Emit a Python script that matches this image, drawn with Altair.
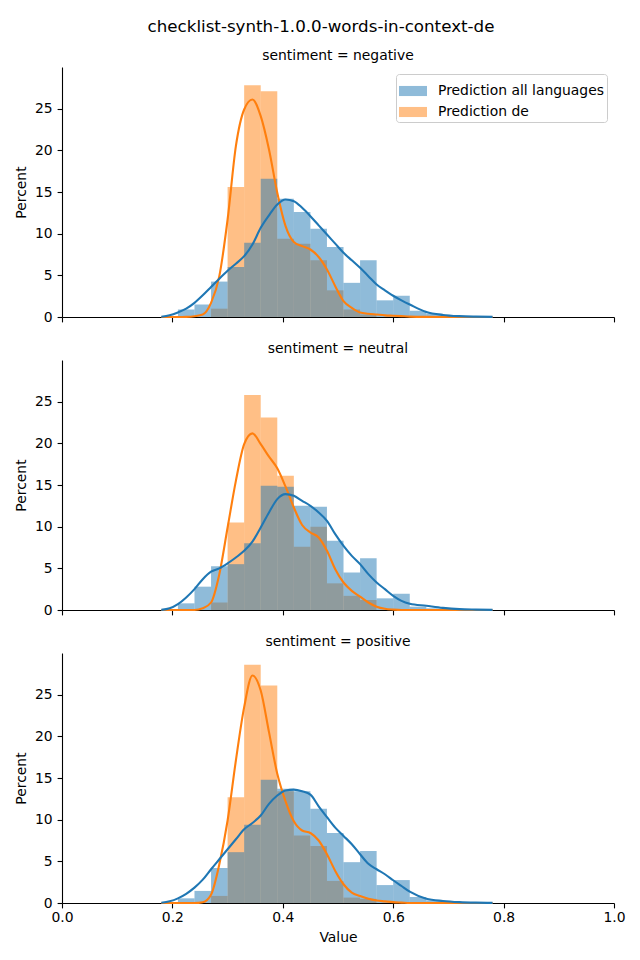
import altair as alt
import pandas as pd

# ---------------- data ----------------
sentiments = ["negative", "neutral", "positive"]
series_names = ["Prediction all languages", "Prediction de"]
series_colors = ["#1f77b4", "#ff7f0e"]

bin_starts = [0.18, 0.21, 0.24, 0.27, 0.30, 0.33, 0.36, 0.39, 0.42, 0.45,
              0.48, 0.51, 0.54, 0.57, 0.60, 0.63, 0.66]
bin_ends = [0.21, 0.24, 0.27, 0.30, 0.33, 0.36, 0.39, 0.42, 0.45, 0.48,
            0.51, 0.54, 0.57, 0.60, 0.63, 0.66, 0.69]

# histogram heights (percent)
hist_all_negative = [0, 0.9, 1.5, 4.25, 6.0, 8.9, 16.6, 14.2, 12.6, 10.6, 8.4, 4.1, 6.8, 2.0, 2.55, 0.75, 0.4]
hist_de_negative = [0, 0, 0, 1.0, 15.6, 27.8, 27.1, 9.4, 8.8, 6.8, 3.2, 0.9, 0.3, 0, 0, 0, 0]
hist_all_neutral = [0, 0.8, 2.8, 5.25, 5.5, 8.0, 14.9, 14.8, 12.5, 12.4, 8.3, 4.5, 6.2, 1.4, 1.95, 0.4, 0.2]
hist_de_neutral = [0, 0, 0, 0.9, 10.5, 25.8, 23.1, 16.1, 7.6, 10.0, 3.2, 1.7, 1.2, 0, 0, 0, 0]
hist_all_positive = [0, 0.56, 1.45, 4.2, 6.1, 9.4, 14.8, 13.7, 13.4, 11.3, 8.4, 4.9, 6.25, 2.15, 2.75, 0.72, 0.32]
hist_de_positive = [0, 0, 0, 0.85, 12.7, 28.6, 26.1, 13.4, 8.1, 6.85, 2.65, 0.65, 0.5, 0, 0, 0, 0]

# KDE curves (percent scale), read at these x positions
kde_x = [0.18, 0.195, 0.21, 0.225, 0.24, 0.255, 0.27, 0.285, 0.30, 0.315,
         0.33, 0.345, 0.36, 0.375, 0.39, 0.405, 0.42, 0.435, 0.45, 0.465,
         0.48, 0.495, 0.51, 0.525, 0.54, 0.555, 0.57, 0.585, 0.60, 0.615,
         0.63, 0.66, 0.69, 0.72, 0.75, 0.78]
kde_all_negative = [0.02, 0.2, 0.55, 1.0, 1.7, 2.6, 3.6, 4.6, 5.55, 6.4,
                    7.3, 8.7, 10.7, 12.2, 13.5, 14.1, 13.9, 13.1, 12.1, 11.0,
                    9.9, 8.8, 7.7, 6.8, 5.9, 4.9, 3.9, 3.2, 2.55, 2.0,
                    1.5, 0.6, 0.25, 0.1, 0.04, 0.01]
kde_de_negative = [0, 0, 0, 0.02, 0.1, 0.3, 1.7, 4.9, 11.7, 20.5,
                   24.9, 26.1, 24.1, 20.1, 14.9, 10.9, 9.0, 8.5, 8.1, 7.2,
                   5.7, 3.7, 1.9, 1.1, 0.55, 0.4, 0.3, 0.2, 0.15, 0.1,
                   0.05, 0.01, 0, 0, 0, 0]
kde_all_neutral = [0.02, 0.2, 0.7, 1.5, 2.5, 3.7, 4.6, 5.0, 5.6, 6.3,
                   7.1, 8.2, 9.9, 11.7, 13.3, 13.9, 13.7, 13.1, 12.5, 11.7,
                   10.7, 9.1, 7.7, 6.5, 5.5, 4.3, 3.3, 2.5, 1.7, 1.1,
                   0.75, 0.5, 0.25, 0.1, 0.05, 0.02]
kde_de_neutral = [0, 0, 0, 0, 0, 0.2, 0.9, 4.3, 9.9, 15.5,
                  19.9, 21.2, 19.9, 18.4, 17.0, 14.8, 12.3, 10.2, 9.3, 8.7,
                  7.1, 4.9, 3.3, 2.3, 1.6, 0.9, 0.4, 0.15, 0.05, 0,
                  0, 0, 0, 0, 0, 0]
kde_all_positive = [0.02, 0.2, 0.56, 1.1, 1.84, 2.8, 4.05, 5.25, 6.45, 7.65,
                    8.85, 9.6, 10.5, 11.9, 12.9, 13.5, 13.6, 13.4, 13.0, 11.6,
                    10.3, 9.05, 8.05, 7.05, 5.85, 4.7, 4.05, 3.45, 2.73, 2.04,
                    1.36, 0.52, 0.24, 0.1, 0.04, 0.02]
kde_de_positive = [0, 0, 0, 0, 0, 0.1, 1.0, 4.65, 9.9, 17.1,
                   23.5, 27.3, 25.5, 20.5, 15.5, 12.2, 9.8, 8.7, 8.4, 7.5,
                   5.85, 3.85, 2.25, 1.24, 0.84, 0.5, 0.3, 0.2, 0.1, 0.05,
                   0, 0, 0, 0, 0, 0]

x_ticks = [0.0, 0.2, 0.4, 0.6, 0.8, 1.0]
y_ticks = [0, 5, 10, 15, 20, 25]

hist_data = {
    ("negative", series_names[0]): hist_all_negative,
    ("negative", series_names[1]): hist_de_negative,
    ("neutral", series_names[0]): hist_all_neutral,
    ("neutral", series_names[1]): hist_de_neutral,
    ("positive", series_names[0]): hist_all_positive,
    ("positive", series_names[1]): hist_de_positive,
}
kde_data = {
    ("negative", series_names[0]): kde_all_negative,
    ("negative", series_names[1]): kde_de_negative,
    ("neutral", series_names[0]): kde_all_neutral,
    ("neutral", series_names[1]): kde_de_neutral,
    ("positive", series_names[0]): kde_all_positive,
    ("positive", series_names[1]): kde_de_positive,
}

hist_rows = []
for (sent, ser), vals in hist_data.items():
    for s, e, v in zip(bin_starts, bin_ends, vals):
        if v > 0:
            hist_rows.append({"sentiment": sent, "series": ser, "start": s, "end": e, "pct": v})
hist_df = pd.DataFrame(hist_rows)

kde_rows = []
for (sent, ser), vals in kde_data.items():
    for x, v in zip(kde_x, vals):
        kde_rows.append({"sentiment": sent, "series": ser, "x": x, "y": v})
kde_df = pd.DataFrame(kde_rows)

FONT = "DejaVu Sans"
FS = 13.9
color_scale = alt.Scale(domain=series_names, range=series_colors)


def panel(sent, first, last):
    h = hist_df[hist_df.sentiment == sent]
    k = kde_df[kde_df.sentiment == sent]
    if last:
        xaxis = alt.Axis(values=x_ticks, format=".1f", title="Value", labelFlush=False)
    else:
        xaxis = alt.Axis(values=x_ticks, labels=False, title=None)
    yaxis = alt.Axis(values=y_ticks, title="Percent")
    xs = alt.Scale(domain=[0, 1], nice=False, zero=False, padding=0)
    ys = alt.Scale(domain=[0, 30], nice=False, padding=0)
    if first:
        legend = alt.Legend(
            title=None, orient="top-right", offset=7,
            strokeColor="#cccccc", fillColor="rgba(255,255,255,0.8)", cornerRadius=3,
            padding=3, labelFont=FONT, labelFontSize=FS, labelColor="#000000",
            labelLimit=400,
            symbolType="M-1,-0.36L1,-0.36L1,0.36L-1,0.36Z", symbolSize=784,
            symbolOpacity=0.5, symbolStrokeWidth=0, labelOffset=11, rowPadding=0,
        )
    else:
        legend = None

    def bars(ser):
        return alt.Chart(h[h.series == ser]).mark_bar(opacity=0.5, strokeWidth=0).encode(
            x=alt.X("start:Q", scale=xs, axis=xaxis),
            x2="end:Q",
            y=alt.Y("pct:Q", scale=ys, axis=yaxis, stack=None),
            y2=alt.datum(0),
            color=alt.Color("series:N", scale=color_scale, legend=legend),
        )

    def line(ser, col):
        return alt.Chart(k[k.series == ser]).mark_line(
            strokeWidth=2.1, interpolate="monotone", color=col
        ).encode(
            x=alt.X("x:Q", scale=xs, axis=xaxis),
            y=alt.Y("y:Q", scale=ys, axis=yaxis),
        )

    return alt.layer(
        bars(series_names[1]), bars(series_names[0]),
        line(series_names[1], series_colors[1]), line(series_names[0], series_colors[0]),
    ).properties(
        width=552, height=250,
        title=alt.TitleParams("sentiment = " + sent, fontSize=FS, font=FONT,
                              fontWeight="normal", color="#000000", offset=4),
    )


chart = alt.vconcat(
    panel("negative", True, False),
    panel("neutral", False, False),
    panel("positive", False, True),
    spacing=18,
).resolve_scale(color="independent").properties(
    title=alt.TitleParams("checklist-synth-1.0.0-words-in-context-de", fontSize=16.7,
                          font=FONT, fontWeight="normal", color="#000000",
                          anchor="middle", offset=13, dx=1),
    padding={"left": 6, "top": 11, "right": 5, "bottom": 5},
).configure_view(stroke=None).configure_axis(
    grid=False, domainColor="#000000", domainWidth=1.1, tickColor="#000000",
    tickWidth=1.1, tickSize=4.9, labelFont=FONT, labelFontSize=FS,
    labelColor="#000000", labelPadding=4.9, titleFont=FONT, titleFontSize=FS,
    titleFontWeight="normal", titleColor="#000000", titlePadding=5.6,
).configure_axisX(labelPadding=3)

chart.save("out.html", embed_options={"renderer": "svg", "actions": False})
